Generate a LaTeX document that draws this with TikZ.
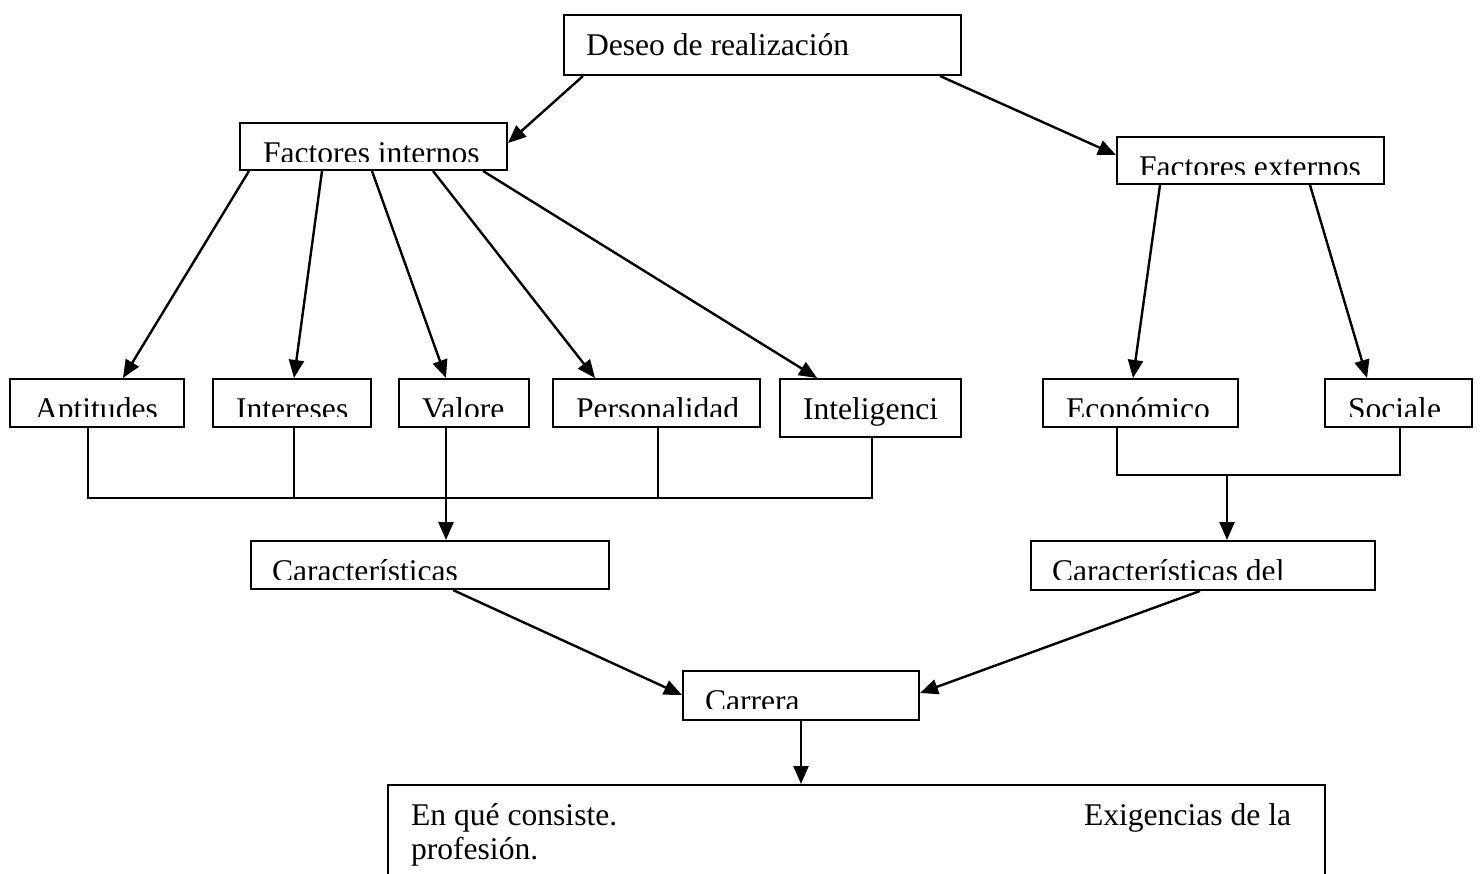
\documentclass[tikz,border=0pt]{standalone}
\usepackage{fontspec}
\setmainfont{Liberation Serif}
\usetikzlibrary{arrows.meta}

\tikzset{
  box/.style={draw, line width=2pt, anchor=north west, inner sep=0pt},
  intext/.style={draw=none, anchor=base west, inner sep=0pt, minimum width=0pt, minimum height=0pt},
  boxtext/.style n args={3}{path picture={
      \clip (path picture bounding box.north west) rectangle ([yshift=-#3]path picture bounding box.north east);
      \node[intext] at ([xshift=#2, yshift=-40pt]path picture bounding box.north west) {#1};}},
  arr/.style={line width=2.4pt, -{Triangle[length=18pt, width=15pt]}},
  link/.style={line width=2pt}
}

\begin{document}
\begin{tikzpicture}[x=1pt, y=-1pt, font=\fontsize{31.6pt}{35pt}\selectfont]

\clip (0,0) rectangle (1480,873);

% boxes
\node[box, minimum width=397pt, minimum height=60pt, boxtext={Deseo de realización}{21pt}{100pt}] (deseo) at (563,14) {};
\node[box, minimum width=267pt, minimum height=47pt, boxtext={Factores internos}{22pt}{38pt}] (fint) at (239,122) {};
\node[box, minimum width=267pt, minimum height=47pt, boxtext={Factores externos}{21pt}{37pt}] (fext) at (1116,136) {};

\node[box, minimum width=174pt, minimum height=48pt, boxtext={Aptitudes}{24pt}{37pt}] (apt) at (9,378) {};
\node[box, minimum width=158pt, minimum height=48pt, boxtext={Intereses}{22pt}{37pt}] (inte) at (212,378) {};
\node[box, minimum width=130pt, minimum height=48pt, boxtext={Valore}{22pt}{37pt}] (val) at (398,378) {};
\node[box, minimum width=207pt, minimum height=48pt, boxtext={Personalidad}{22pt}{37pt}] (pers) at (552,378) {};
\node[box, minimum width=181pt, minimum height=58pt, boxtext={Inteligenci}{22pt}{100pt}] (intel) at (779,378) {};
\node[box, minimum width=195pt, minimum height=48pt, boxtext={Económico}{22pt}{37pt}] (eco) at (1042,378) {};
\node[box, minimum width=147pt, minimum height=48pt, boxtext={Sociale}{22pt}{37pt}] (soc) at (1324,378) {};

\node[box, minimum width=358pt, minimum height=48pt, boxtext={Características}{20pt}{38pt}] (car) at (250,540) {};
\node[box, minimum width=344pt, minimum height=49pt, boxtext={Características del}{20pt}{38pt}] (card) at (1030,540) {};
\node[box, minimum width=236pt, minimum height=49pt, boxtext={Carrera}{21pt}{37pt}] (carr) at (682,670) {};

\node[box, minimum width=937pt, minimum height=130pt, path picture={
    \node[intext] at ([xshift=22pt, yshift=-40pt]path picture bounding box.north west) {En qué consiste.};
    \node[intext] at ([xshift=695pt, yshift=-40pt]path picture bounding box.north west) {Exigencias de la};
    \node[intext] at ([xshift=22pt, yshift=-74pt]path picture bounding box.north west) {profesión.};}] (final) at (387,784) {};

% arrows from the top
\draw[arr] ([xshift=20pt]deseo.south west) -- ([yshift=-21pt]fint.north east);
\draw[arr] ([xshift=-22pt]deseo.south east) -- ([yshift=-19pt]fext.north west);

\draw[arr] ([xshift=10pt]fint.south west) -- ([xshift=114pt]apt.north west);
\draw[arr] ([xshift=83pt]fint.south west) -- ([xshift=82pt]inte.north west);
\draw[arr] ([xshift=133pt]fint.south west) -- ([xshift=48pt]val.north west);
\draw[arr] ([xshift=194pt]fint.south west) -- ([xshift=43pt]pers.north west);
\draw[arr] ([xshift=244pt]fint.south west) -- ([xshift=38pt]intel.north west);

\draw[arr] ([xshift=44pt]fext.south west) -- ([xshift=91pt]eco.north west);
\draw[arr] ([xshift=194pt]fext.south west) -- ([xshift=43pt]soc.north west);

% joining lines
\draw[link] ([xshift=79pt]apt.south west) -- ++(0,70) -| ([xshift=93pt]intel.south west);
\draw[link] ([xshift=82pt]inte.south west) -- ++(0,70);
\draw[link] ([xshift=106pt]pers.south west) -- ++(0,70);
\draw[arr] ([xshift=48pt]val.south west) -- ([xshift=48pt]val.south west |- car.north);

\draw[link] ([xshift=75pt]eco.south west) -- ++(0,47) -| ([xshift=76pt]soc.south west);
\draw[arr] ([xshift=185pt, yshift=-47pt]eco.south west) -- ([xshift=197pt]card.north west);

% to the career
\draw[arr] ([xshift=203pt]car.south west) -- ([yshift=-25pt]carr.north west);
\draw[arr] ([xshift=170pt]card.south west) -- ([yshift=-23pt]carr.north east);
\draw[arr] ([xshift=119pt]carr.south west) -- ([xshift=414pt]final.north west);

\end{tikzpicture}
\end{document}
